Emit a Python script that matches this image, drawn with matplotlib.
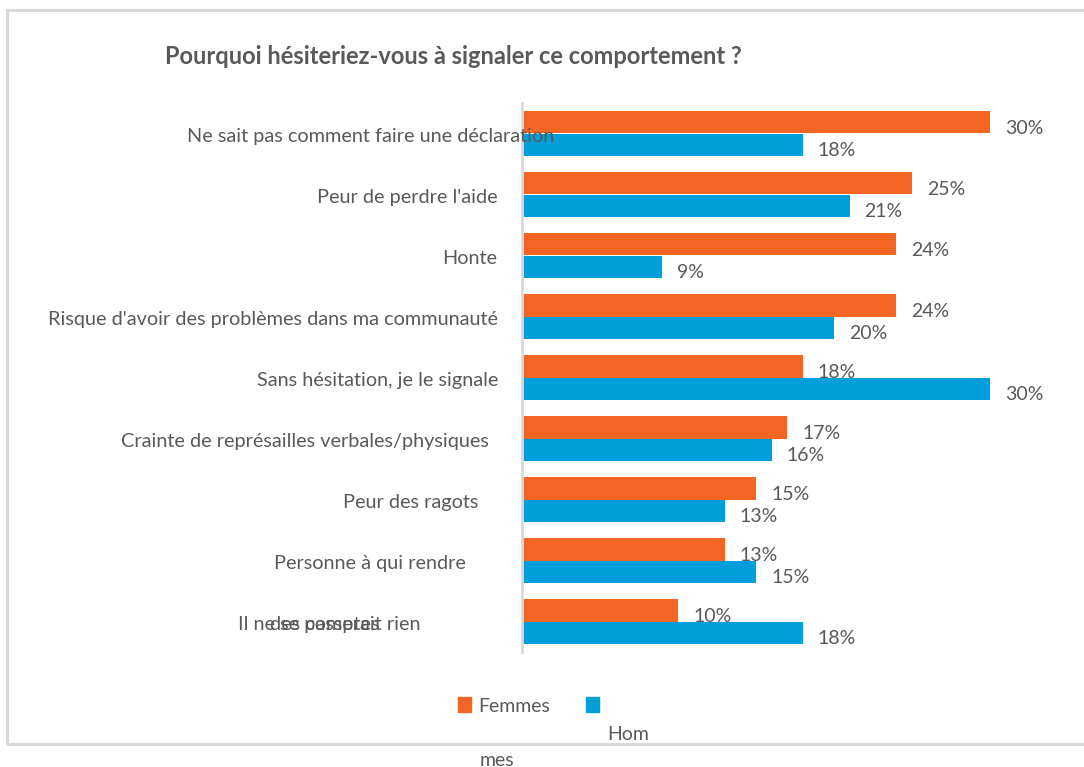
import matplotlib
matplotlib.use("Agg")
import matplotlib.pyplot as plt
from matplotlib.patches import Rectangle
from matplotlib.transforms import blended_transform_factory, offset_copy

plt.rcParams['font.family'] = ['Lato', 'DejaVu Sans']

categories = [
    "Ne sait pas comment faire une déclaration",
    "Peur de perdre l'aide",
    "Honte",
    "Risque d'avoir des problèmes dans ma communauté",
    "Sans hésitation, je le signale",
    "Crainte de représailles verbales/physiques",
    "Peur des ragots",
    "Personne à qui rendre",
    "Il ne se passerait rien",
]
femmes = [30, 25, 24, 24, 18, 17, 15, 13, 10]
hommes = [18, 21, 9, 20, 30, 16, 13, 15, 18]
title = "Pourquoi hésiteriez-vous à signaler ce comportement ?"

ORANGE = "#F26522"
BLUE = "#009EDB"
GREY_TXT = "#595959"

W, H = 1084, 767
fig = plt.figure(figsize=(W / 100, H / 100), dpi=100)

# outer chart frame
fig.patches.append(Rectangle((7 / W, (H - 744) / H), (W + 10) / W, (744 - 10) / H,
                             transform=fig.transFigure, fill=False,
                             edgecolor="#d9d9d9", linewidth=2.2))

ax_left, ax_right, ax_top, ax_bottom = 522, 1050, 103, 652
ax = fig.add_axes([ax_left / W, (H - ax_bottom) / H,
                   (ax_right - ax_left) / W, (ax_bottom - ax_top) / H])

n = len(categories)
ypos = list(range(n))
bh = 0.373
yf = [y - bh / 2 for y in ypos]
yh = [y + bh / 2 for y in ypos]
ax.barh(yf, femmes, height=bh, color=ORANGE, zorder=2)
ax.barh(yh, hommes, height=bh, color=BLUE, zorder=2)

ax.set_xlim(0, (ax_right - ax_left) / 15.6)
ax.set_ylim(n - 0.5, -0.5)
ax.set_xticks([])
ax.set_yticks([])
for s in ["top", "right", "bottom"]:
    ax.spines[s].set_visible(False)
ax.spines["left"].set_color("#d9d9d9")
ax.spines["left"].set_linewidth(2)

# value labels
for ys, vals in ((yf, femmes), (yh, hommes)):
    for y, v in zip(ys, vals):
        t = offset_copy(ax.transData, fig=fig, x=15, y=-6, units="dots")
        ax.text(v, y, f"{v}%", transform=t, ha="left", va="center",
                fontsize=14, color=GREY_TXT, zorder=5)

# category labels (right edge in pixels from figure left)
label_right = [554, 498, 497, 498, 498, 489, 478, 466, 420]
bt = blended_transform_factory(fig.transFigure, ax.transData)
bt = offset_copy(bt, fig=fig, x=0, y=-3, units="dots")
for y, lab, xr in zip(ypos, categories, label_right):
    ax.text(xr / W, y, lab, transform=bt, ha="right", va="center",
            fontsize=14.3, color=GREY_TXT, zorder=6, clip_on=False)
# wrapped second line of the "Personne à qui rendre" label
ax.text(270 / W, ypos[-1], "des comptes", transform=bt, ha="left", va="center",
        fontsize=14.3, color=GREY_TXT, zorder=6, clip_on=False)

# title
fig.text(165 / W, 1 - 57 / H, title, ha="left", va="center",
         fontsize=17, fontweight="bold", color=GREY_TXT)

# legend
fig.patches.append(Rectangle((458 / W, 1 - 712 / H), 13 / W, 15 / H,
                             transform=fig.transFigure, color=ORANGE))
fig.text(478 / W, 1 - 706 / H, "Femmes", ha="left", va="center",
         fontsize=14, color=GREY_TXT)
fig.patches.append(Rectangle((586 / W, 1 - 712 / H), 13 / W, 15 / H,
                             transform=fig.transFigure, color=BLUE))
fig.text(607 / W, 1 - 734 / H, "Hom", ha="left", va="center",
         fontsize=14, color=GREY_TXT)
fig.text(480 / W, 1 - 760 / H, "mes", ha="left", va="center",
         fontsize=14, color=GREY_TXT)

fig.savefig("out.png", dpi=100)
